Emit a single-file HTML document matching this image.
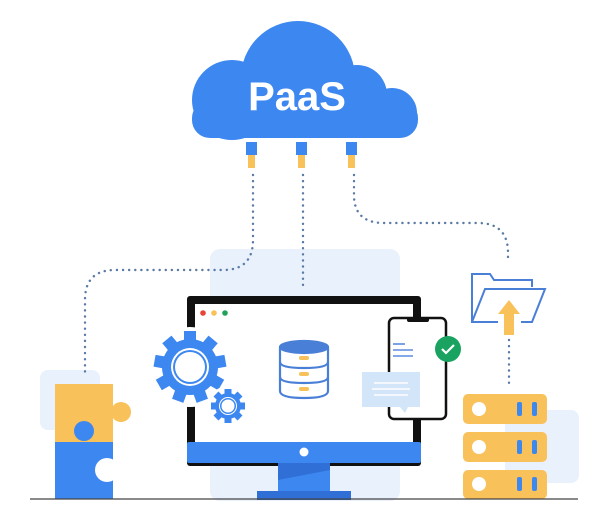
<!DOCTYPE html>
<html><head><style>html,body{margin:0;padding:0;background:#fff;width:600px;height:511px;overflow:hidden}</style></head>
<body>
<svg width="600" height="511" viewBox="0 0 600 511" xmlns="http://www.w3.org/2000/svg">
<rect x="210" y="249" width="190" height="252" rx="10" fill="#e9f1fc"/>
<rect x="40" y="370" width="60" height="60" rx="8" fill="#e9f1fc"/>
<rect x="505" y="410" width="74" height="73" rx="8" fill="#e9f1fc"/>
<g fill="#3d87f0">
<circle cx="298" cy="78" r="57"/>
<circle cx="232" cy="100" r="40"/>
<circle cx="392" cy="113" r="25"/>
<circle cx="357" cy="95" r="30"/>
<rect x="192" y="100" width="226" height="38" rx="18"/>
</g>
<text x="297" y="110" text-anchor="middle" font-family="Liberation Sans, sans-serif" font-weight="bold" font-size="40" fill="#fff">PaaS</text>
<g fill="#3d87f0"><rect x="246" y="142" width="11" height="13"/><rect x="296" y="142" width="11" height="13"/><rect x="346" y="142" width="11" height="13"/></g>
<g fill="#f9c15a"><rect x="248" y="155" width="7" height="13"/><rect x="298" y="155" width="7" height="13"/><rect x="348" y="155" width="7" height="13"/></g>
<g fill="none" stroke="#5b7aa6" stroke-width="2.4" stroke-dasharray="0.1 6" stroke-linecap="round">
<path d="M253 175 V240 Q253 270 223 270 H115 Q85 270 85 300 V372"/>
<path d="M303 175 V288"/>
<path d="M354 175 V195 Q354 223 384 223 H478 Q508 223 508 253 V262"/>
<path d="M509 340 V384"/>
</g>
<rect x="187" y="296" width="234" height="170" rx="3" fill="#111"/>
<rect x="195" y="304" width="218" height="149" fill="#fff"/>
<rect x="187" y="442" width="234" height="21" rx="2" fill="#3d87f0"/>
<circle cx="304" cy="452" r="4.5" fill="#fff"/>
<polygon points="278,463 330,463 330,493 278,493" fill="#2f6fd6"/>
<polygon points="278,480 330,470 330,493 278,493" fill="#3d87f0"/>
<rect x="257" y="491" width="94" height="9" fill="#2f6fd6"/>
<circle cx="203" cy="313" r="2.8" fill="#e84335"/><circle cx="214" cy="313" r="2.8" fill="#f9c15a"/><circle cx="225" cy="313" r="2.8" fill="#1fa35a"/>
<g fill="#3d87f0">
<g transform="translate(190,367)">
<circle r="40" fill="#fff"/>
<circle r="28"/>
<g id="t"><rect x="-6" y="-36" width="12" height="12"/></g>
<use href="#t" transform="rotate(40)"/><use href="#t" transform="rotate(80)"/><use href="#t" transform="rotate(120)"/><use href="#t" transform="rotate(160)"/><use href="#t" transform="rotate(200)"/><use href="#t" transform="rotate(240)"/><use href="#t" transform="rotate(280)"/><use href="#t" transform="rotate(320)"/>
<circle r="19" fill="#fff"/><circle r="17"/><circle r="15" fill="#fff"/>
</g>
<g transform="translate(228,406)">
<circle r="20" fill="#fff"/>
<circle r="13"/>
<g id="t2"><rect x="-3.5" y="-17" width="7" height="7"/></g>
<use href="#t2" transform="rotate(45)"/><use href="#t2" transform="rotate(90)"/><use href="#t2" transform="rotate(135)"/><use href="#t2" transform="rotate(180)"/><use href="#t2" transform="rotate(225)"/><use href="#t2" transform="rotate(270)"/><use href="#t2" transform="rotate(315)"/>
<circle r="9" fill="#fff"/><circle r="8"/><circle r="6.5" fill="#fff"/>
</g>
</g>
<g fill="#fff" stroke="#4a7fd8" stroke-width="2.2">
<path d="M280 347 V391 Q280 398 304 398 Q328 398 328 391 V347"/>
<ellipse cx="304" cy="347" rx="24" ry="6" fill="#4a7fd8"/>
<path d="M280 362 Q280 368 304 368 Q328 368 328 362" fill="none"/>
<path d="M280 377 Q280 383 304 383 Q328 383 328 377" fill="none"/>
</g>
<g fill="#f9c15a"><rect x="299" y="356" width="10" height="4" rx="2"/><rect x="299" y="372" width="10" height="4" rx="2"/><rect x="299" y="387" width="10" height="4" rx="2"/></g>
<rect x="389" y="318" width="57" height="101" rx="5" fill="#fff" stroke="#111" stroke-width="2.5"/>
<rect x="407" y="317" width="22" height="5" rx="2" fill="#111"/>
<g stroke="#5b8be0" stroke-width="1.6"><line x1="393" y1="344" x2="405" y2="344"/><line x1="393" y1="350" x2="413" y2="350"/><line x1="393" y1="356" x2="413" y2="356"/></g>
<circle cx="448" cy="349" r="13" fill="#1aa260"/>
<polyline points="442,349 446,353 454,345" fill="none" stroke="#fff" stroke-width="2.2"/>
<rect x="362" y="372" width="58" height="35" fill="#d3e5f8"/>
<polygon points="400,407 408,407 405,413" fill="#d3e5f8"/>
<g stroke="#fff" stroke-width="1.6"><line x1="374" y1="383" x2="408" y2="383"/><line x1="372" y1="389" x2="410" y2="389"/><line x1="374" y1="395" x2="408" y2="395"/></g>
<g fill="none" stroke="#4a7fd8" stroke-width="2">
<path d="M498 322 H472 V274 H490 L494 280 H532 V287"/>
<path d="M472 322 L485 289 H545 L532 322 H521"/>
</g>
<polygon points="509,300 520,314 514,314 514,335 504,335 504,314 498,314" fill="#f9c15a"/>
<g fill="#f9c15a"><rect x="463" y="394" width="84" height="30" rx="5"/><rect x="463" y="432" width="84" height="30" rx="5"/><rect x="463" y="470" width="84" height="29" rx="5"/></g>
<g fill="#fff"><circle cx="479" cy="409" r="7"/><circle cx="479" cy="447" r="7"/><circle cx="479" cy="484" r="7"/></g>
<g fill="#3d87f0"><rect x="517" y="402" width="5" height="14" rx="2"/><rect x="532" y="402" width="5" height="14" rx="2"/><rect x="517" y="440" width="5" height="14" rx="2"/><rect x="532" y="440" width="5" height="14" rx="2"/><rect x="517" y="477" width="5" height="14" rx="2"/><rect x="532" y="477" width="5" height="14" rx="2"/></g>
<rect x="55" y="384" width="58" height="58" fill="#f9c15a"/>
<circle cx="121" cy="412" r="10" fill="#f9c15a"/>
<rect x="55" y="442" width="58" height="57" fill="#3d87f0"/>
<circle cx="84" cy="431" r="10" fill="#3d87f0"/>
<circle cx="107" cy="470" r="12" fill="#fff"/>
<line x1="30" y1="499" x2="578" y2="499" stroke="#444" stroke-width="1.2"/>
</svg>
</body></html>
